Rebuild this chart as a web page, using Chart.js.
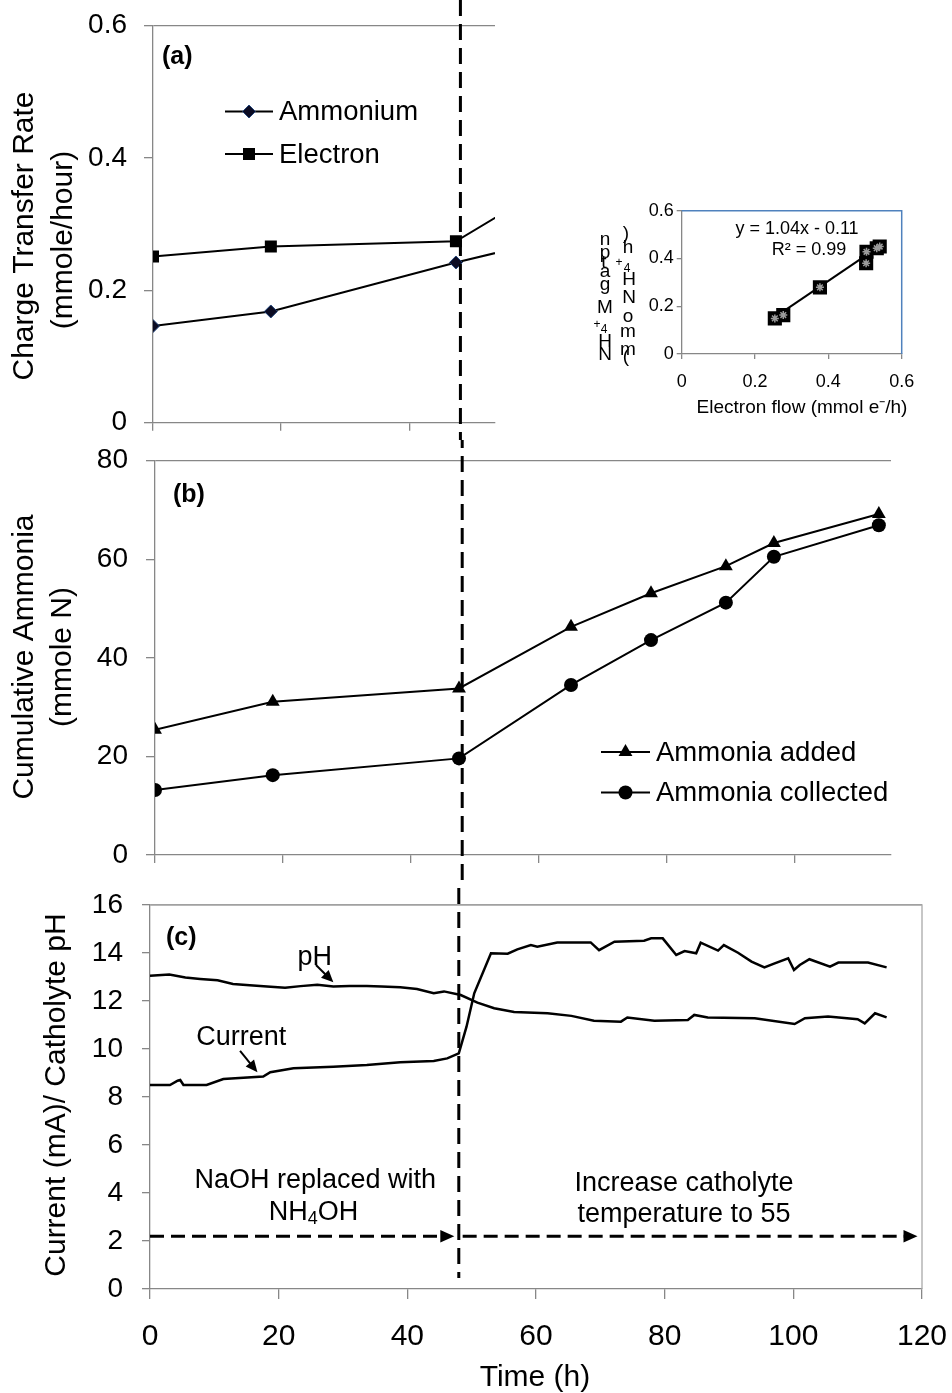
<!DOCTYPE html>
<html><head><meta charset="utf-8">
<script src="https://cdn.jsdelivr.net/npm/chart.js@4.4.1/dist/chart.umd.min.js"></script>
<style>
html,body{margin:0;padding:0;background:#fff;}
#wrap{position:relative;width:952px;height:1393px;overflow:hidden;background:#fff;}
canvas{position:absolute;}
</style></head><body>
<div id="wrap">
<canvas id="ca" width="952" height="440" style="left:0;top:0"></canvas>
<canvas id="cb" width="952" height="440" style="left:0;top:440px"></canvas>
<canvas id="cc" width="952" height="513" style="left:0;top:880px"></canvas>
<canvas id="ci" width="372" height="240" style="left:580px;top:195px"></canvas>
</div>
<script>
// ---------------- DATA ----------------
// Panel (a): charge transfer rate
const timeA = [0, 18.4, 47.3, 65];
const ammoniumRate = [0.146, 0.168, 0.242, 0.283];
const electronRate = [0.251, 0.266, 0.274, 0.377];
const yTicksA = [0, 0.2, 0.4, 0.6];
const xTicksA = [0, 20, 40];

// Inset: NH4+ migration vs electron flow
const electronFlow = [0.254, 0.277, 0.377, 0.503, 0.504, 0.532, 0.540];
const ammoniumFlow = [0.149, 0.163, 0.279, 0.380, 0.428, 0.443, 0.450];
const trendX = [0.25, 0.55];
const trendY = [0.15, 0.462];
const insetTicks = [0, 0.2, 0.4, 0.6];
const trendEquation = 'y = 1.04x - 0.11';
const trendR2 = 'R² = 0.99';

// Panel (b): cumulative ammonia
const timeB = [0, 18.4, 47.5, 65, 77.5, 89.2, 96.7, 113.1];
const ammoniaAdded = [25.4, 31.1, 33.8, 46.3, 53.1, 58.6, 63.3, 69.2];
const ammoniaCollected = [13.2, 16.2, 19.6, 34.5, 43.6, 51.2, 60.5, 66.9];
const yTicksB = [0, 20, 40, 60, 80];
const xTicksB = [0, 20, 40, 60, 80, 100];

// Panel (c): current and catholyte pH
const timePH = [0, 3, 5.5, 7.8, 10.5, 12.9, 15.5, 18.2, 21, 23.4, 26, 28.5, 31, 33.7, 36, 38.9, 41.5, 44.1, 45.7, 48.3, 50.9, 53.5, 56.6, 61.8, 65.5, 69, 73.2, 74.2, 78.4, 83.6, 84.6, 86.7, 94, 100.2, 101.8, 105.4, 110, 111.1, 112.7, 114.5];
const pH = [13.05, 13.1, 12.98, 12.92, 12.86, 12.71, 12.66, 12.6, 12.55, 12.62, 12.68, 12.6, 12.63, 12.62, 12.6, 12.57, 12.5, 12.32, 12.4, 12.25, 11.93, 11.7, 11.54, 11.49, 11.38, 11.18, 11.14, 11.31, 11.18, 11.21, 11.42, 11.31, 11.28, 11.04, 11.28, 11.35, 11.24, 11.07, 11.49, 11.32];
const timeCurrent = [0, 3.1, 4.3, 4.7, 5.2, 8.8, 11.4, 17.6, 18.7, 22.3, 28.5, 33.7, 38.9, 44.1, 46.2, 48, 49.2, 50.4, 53, 55.6, 57.1, 59.2, 60.2, 63.3, 68.5, 69.8, 72.2, 76.8, 77.9, 79.7, 81.8, 83.1, 84.9, 85.6, 88.3, 89.2, 91.4, 93.5, 95.5, 97.1, 99.2, 100.1, 101, 102.5, 105.7, 107, 111.6, 114.5];
const current = [8.5, 8.5, 8.68, 8.71, 8.5, 8.5, 8.75, 8.85, 9.03, 9.2, 9.26, 9.33, 9.45, 9.5, 9.61, 9.82, 10.93, 12.32, 13.99, 13.97, 14.15, 14.33, 14.26, 14.44, 14.44, 14.12, 14.47, 14.51, 14.61, 14.61, 13.92, 14.08, 13.99, 14.43, 14.1, 14.33, 14.01, 13.64, 13.4, 13.57, 13.78, 13.29, 13.5, 13.74, 13.43, 13.6, 13.6, 13.4];
const yTicksC = [0, 2, 4, 6, 8, 10, 12, 14, 16];
const xTicksC = [0, 20, 40, 60, 80, 100, 120];

const switchTime = 48;   // NaOH replaced with NH4OH

// ---------------- HELPERS ----------------
const FONT = "'Liberation Sans', Arial, Helvetica, sans-serif";
const AXIS = '#878787';
Chart.defaults.font.family = FONT;
Chart.defaults.color = '#000';

const pts = (xs, ys) => xs.map((x, i) => ({x: x, y: ys[i]}));
const setTicks = arr => (s => { s.ticks = arr.map(v => ({value: v})); });

function drawMarker(ctx, style, x, y, r, fill, stroke, bw) {
  ctx.save();
  ctx.fillStyle = fill; ctx.strokeStyle = stroke || fill; ctx.lineWidth = bw || 0;
  ctx.beginPath();
  if (style === 'rect') { const s = r * Math.SQRT1_2; ctx.rect(x - s, y - s, 2 * s, 2 * s); }
  else if (style === 'rectRot') { ctx.moveTo(x, y - r); ctx.lineTo(x + r, y); ctx.lineTo(x, y + r); ctx.lineTo(x - r, y); ctx.closePath(); }
  else if (style === 'triangle') {
    for (let k = 0; k < 3; k++) { const a = k * 2 * Math.PI / 3; const px = x + Math.sin(a) * r, py = y - Math.cos(a) * r; k ? ctx.lineTo(px, py) : ctx.moveTo(px, py); }
    ctx.closePath();
  } else { ctx.arc(x, y, r, 0, Math.PI * 2); }
  ctx.fill(); if (bw) ctx.stroke();
  ctx.restore();
}
function legendItem(ctx, ds, x1, x2, y, tx, label, size) {
  ctx.save();
  ctx.strokeStyle = ds.borderColor; ctx.lineWidth = ds.borderWidth;
  ctx.beginPath(); ctx.moveTo(x1, y); ctx.lineTo(x2, y); ctx.stroke();
  drawMarker(ctx, ds.pointStyle, (x1 + x2) / 2, y, ds.pointRadius, ds.pointBackgroundColor, ds.pointBorderColor, ds.pointBorderWidth);
  ctx.fillStyle = '#000'; ctx.font = size + 'px ' + FONT; ctx.textBaseline = 'middle'; ctx.textAlign = 'left';
  ctx.fillText(label, tx, y + 1);
  ctx.restore();
}
function text(ctx, str, x, y, size, opts) {
  opts = opts || {};
  ctx.save();
  ctx.font = (opts.bold ? 'bold ' : '') + size + 'px ' + FONT;
  ctx.fillStyle = '#000'; ctx.textAlign = opts.align || 'center'; ctx.textBaseline = opts.baseline || 'middle';
  if (opts.rotate) { ctx.translate(x, y); ctx.rotate(-Math.PI / 2); ctx.fillText(str, 0, 0); }
  else ctx.fillText(str, x, y);
  ctx.restore();
}
function switchLine(chart, y1, y2, offset) {
  const ctx = chart.ctx; const x = chart.scales.x.getPixelForValue(switchTime);
  ctx.save();
  ctx.strokeStyle = '#000'; ctx.lineWidth = 3; ctx.setLineDash([16, 8]); ctx.lineDashOffset = offset;
  ctx.beginPath(); ctx.moveTo(x, y1); ctx.lineTo(x, y2); ctx.stroke();
  ctx.restore();
}
function arrow(ctx, x1, y1, x2, y2, dash, head, lw) {
  const ang = Math.atan2(y2 - y1, x2 - x1);
  ctx.save();
  ctx.strokeStyle = '#000'; ctx.fillStyle = '#000'; ctx.lineWidth = lw;
  if (dash) ctx.setLineDash(dash);
  ctx.beginPath(); ctx.moveTo(x1, y1);
  ctx.lineTo(x2 - Math.cos(ang) * head * 0.8, y2 - Math.sin(ang) * head * 0.8); ctx.stroke();
  ctx.setLineDash([]);
  ctx.translate(x2, y2); ctx.rotate(ang);
  ctx.beginPath(); ctx.moveTo(0, 0); ctx.lineTo(-head, -head * 0.45); ctx.lineTo(-head, head * 0.45); ctx.closePath(); ctx.fill();
  ctx.restore();
}
function yScale(min, max, ticks, width, labelSize, pad, tl, topLine) {
  return {
    type: 'linear', min: min, max: max,
    afterBuildTicks: setTicks(ticks),
    afterFit: s => { s.width = width; s.paddingTop = 0; s.paddingBottom = 0; },
    ticks: {font: {size: labelSize, family: FONT}, color: '#000', padding: pad},
    grid: {tickLength: tl, tickColor: AXIS, lineWidth: 1.3,
      color: c => (topLine && c.tick && c.tick.value === max) ? AXIS : 'rgba(0,0,0,0)'},
    border: {color: AXIS, width: 1.3}
  };
}
function xScale(min, max, ticks, height, showLabels, labelSize, pad, tl) {
  return {
    type: 'linear', min: min, max: max,
    afterBuildTicks: setTicks(ticks),
    afterFit: s => { s.height = height; s.paddingLeft = 0; s.paddingRight = 0; },
    ticks: {display: showLabels, font: {size: labelSize || 12, family: FONT}, color: '#000', padding: pad || 0, maxRotation: 0},
    grid: {drawOnChartArea: false, tickLength: tl, tickColor: AXIS, lineWidth: 1.3},
    border: {color: AXIS, width: 1.3}
  };
}
const base = {animation: false, responsive: false, events: [],
  plugins: {legend: {display: false}, tooltip: {enabled: false}}};

// ---------------- PANEL (a) ----------------
new Chart(document.getElementById('ca'), {
  type: 'line',
  data: {datasets: [
    {label: 'Ammonium', data: pts(timeA, ammoniumRate), borderColor: '#000', borderWidth: 2, tension: 0,
     pointStyle: 'rectRot', pointRadius: 6.5, pointBackgroundColor: '#0b0b22', pointBorderColor: '#22447a', pointBorderWidth: 1},
    {label: 'Electron', data: pts(timeA, electronRate), borderColor: '#000', borderWidth: 2, tension: 0,
     pointStyle: 'rect', pointRadius: 8.5, pointBackgroundColor: '#000', pointBorderColor: '#000', pointBorderWidth: 0}
  ]},
  options: Object.assign({}, base, {
    layout: {padding: {left: 0, top: 25.5, right: 457, bottom: 0}},
    scales: {x: xScale(0, 53.4, xTicksA, 17.3, false, 12, 0, 8),
             y: yScale(0, 0.6, yTicksA, 153, 28, 17, 9, true)}
  }),
  plugins: [{id: 'pa', afterDraw(chart) {
    const ctx = chart.ctx, ds = chart.data.datasets;
    switchLine(chart, 0, 440, 0);
    text(ctx, '(a)', 162, 57, 25, {bold: true, align: 'left'});
    legendItem(ctx, ds[0], 225, 273, 111.5, 279, 'Ammonium', 27.5);
    legendItem(ctx, ds[1], 225, 273, 154, 279, 'Electron', 27.5);
    text(ctx, 'Charge Transfer Rate', 25, 236, 30, {rotate: true});
    text(ctx, '(mmole/hour)', 64, 240, 30, {rotate: true});
  }}]
});

// ---------------- INSET ----------------
new Chart(document.getElementById('ci'), {
  type: 'scatter',
  data: {datasets: [
    {type: 'line', data: pts(trendX, trendY), borderColor: '#000', borderWidth: 2, pointRadius: 0, tension: 0, order: 1},
    {data: pts(electronFlow, ammoniumFlow), pointStyle: 'star', pointRadius: 4, borderColor: '#9a9a9a', borderWidth: 1.5, backgroundColor: '#9a9a9a', order: 0},
    {data: pts(electronFlow, ammoniumFlow), pointStyle: 'rect', pointRadius: 10, backgroundColor: '#000', borderColor: '#000', borderWidth: 0, order: 2}
  ]},
  options: Object.assign({}, base, {
    layout: {padding: {left: 0, top: 15.7, right: 50.3, bottom: 0}},
    scales: {
      x: xScale(0, 0.6, insetTicks, 81, true, 18, 12, 5),
      y: yScale(0, 0.6, insetTicks, 101.7, 18, 3, 5, false)
    }
  }),
  plugins: [{id: 'pi', afterDraw(chart) {
    const ctx = chart.ctx, a = chart.chartArea;
    ctx.save(); ctx.strokeStyle = '#4F81BD'; ctx.lineWidth = 1.5;
    ctx.beginPath(); ctx.moveTo(a.left, a.top); ctx.lineTo(a.right, a.top); ctx.lineTo(a.right, a.bottom); ctx.stroke(); ctx.restore();
    text(ctx, trendEquation, 217, 34, 18);
    text(ctx, trendR2, 229, 55, 18);
    text(ctx, 'Electron flow (mmol e\u207B/h)', 222, 213, 19);
    // stacked (broken) vertical axis title as in the original
    const col1 = [['n', 25, 50], ['p', 25, 63], ['t', 24, 73], ['a', 25, 82], ['g', 25, 95], ['M', 25, 118], ['H', 25, 152], ['N', 25, 165]];
    const col2 = [[')', 46, 44], ['h', 48, 58], ['H', 49, 90], ['N', 49, 108], ['o', 48, 127], ['m', 48, 142], ['m', 48, 160], ['(', 46, 167]];
    col1.concat(col2).forEach(c => text(ctx, c[0], c[1], c[2], 19, {baseline: 'alphabetic'}));
    [['+', 17, 133], ['4', 24, 138], ['+', 39, 71], ['4', 47, 77]].forEach(c => text(ctx, c[0], c[1], c[2], 12, {baseline: 'alphabetic'}));
  }}]
});

// ---------------- PANEL (b) ----------------
new Chart(document.getElementById('cb'), {
  type: 'line',
  data: {datasets: [
    {label: 'Ammonia added', data: pts(timeB, ammoniaAdded), borderColor: '#000', borderWidth: 2, tension: 0,
     pointStyle: 'triangle', pointRadius: 8, pointBackgroundColor: '#000', pointBorderColor: '#000', pointBorderWidth: 0},
    {label: 'Ammonia collected', data: pts(timeB, ammoniaCollected), borderColor: '#000', borderWidth: 2, tension: 0,
     pointStyle: 'circle', pointRadius: 7, pointBackgroundColor: '#000', pointBorderColor: '#000', pointBorderWidth: 0}
  ]},
  options: Object.assign({}, base, {
    layout: {padding: {left: 0, top: 20.7, right: 61, bottom: 0}},
    scales: {x: xScale(0, 115, xTicksB, 25, false, 12, 0, 8),
             y: yScale(0, 80, yTicksB, 155, 28, 18, 9, true)}
  }),
  plugins: [{id: 'pb', afterDraw(chart) {
    const ctx = chart.ctx, ds = chart.data.datasets;
    switchLine(chart, 0, 440, 440);
    text(ctx, '(b)', 173, 55, 25, {bold: true, align: 'left'});
    legendItem(ctx, ds[0], 601, 650, 312, 656, 'Ammonia added', 27.5);
    legendItem(ctx, ds[1], 601, 650, 352.5, 656, 'Ammonia collected', 27.5);
    text(ctx, 'Cumulative Ammonia', 25, 217, 30, {rotate: true});
    text(ctx, '(mmole N)', 63, 217, 30, {rotate: true});
  }}]
});

// ---------------- PANEL (c) ----------------
new Chart(document.getElementById('cc'), {
  type: 'line',
  data: {datasets: [
    {label: 'pH', data: pts(timePH, pH), borderColor: '#000', borderWidth: 2.5, pointRadius: 0, tension: 0},
    {label: 'Current', data: pts(timeCurrent, current), borderColor: '#000', borderWidth: 2.5, pointRadius: 0, tension: 0}
  ]},
  options: Object.assign({}, base, {
    layout: {padding: {left: 0, top: 25, right: 30, bottom: 0}},
    scales: {x: xScale(0, 120, xTicksC, 104, true, 30, 20, 10),
             y: yScale(0, 16, yTicksC, 150, 28, 19, 8, true)}
  }),
  plugins: [{id: 'pc', afterDraw(chart) {
    const ctx = chart.ctx, a = chart.chartArea, xs = chart.scales.x, ys = chart.scales.y;
    const X = v => xs.getPixelForValue(v), Y = v => ys.getPixelForValue(v);
    ctx.save(); ctx.strokeStyle = '#aaaaaa'; ctx.lineWidth = 1.3;
    ctx.beginPath(); ctx.moveTo(a.left, a.top); ctx.lineTo(a.right, a.top); ctx.lineTo(a.right, a.bottom); ctx.stroke(); ctx.restore();
    switchLine(chart, 0, 398, 880);
    text(ctx, '(c)', 166, 58, 25, {bold: true, align: 'left'});
    // series labels with arrows
    text(ctx, 'pH', X(25.6), Y(13.83), 27);
    arrow(ctx, X(25.8), Y(13.5), X(28.5), Y(12.78), null, 12, 2);
    text(ctx, 'Current', X(14.2), Y(10.46), 27);
    arrow(ctx, X(14.0), Y(9.92), X(16.7), Y(9.03), null, 12, 2);
    // phase annotations
    text(ctx, 'NaOH replaced with', X(25.7), Y(4.5), 27);
    ctx.save(); ctx.font = '27px ' + FONT;
    const w1 = ctx.measureText('NH').width, w3 = ctx.measureText('OH').width;
    ctx.font = '18px ' + FONT; const w2 = ctx.measureText('4').width; ctx.restore();
    const cx = X(25.4), cy = Y(3.2), sx = cx - (w1 + w2 + w3) / 2;
    text(ctx, 'NH', sx, cy, 27, {align: 'left'});
    text(ctx, '4', sx + w1, cy + 7, 18, {align: 'left'});
    text(ctx, 'OH', sx + w1 + w2, cy, 27, {align: 'left'});
    text(ctx, 'Increase catholyte', X(83), Y(4.4), 27);
    text(ctx, 'temperature to 55', X(83), Y(3.1), 27);
    arrow(ctx, X(0), Y(2.2), X(47.3), Y(2.2), [14, 7], 14, 3);
    arrow(ctx, X(48.6), Y(2.2), X(119.3), Y(2.2), [14, 7], 14, 3);
    text(ctx, 'Current (mA)/ Catholyte pH', 57, 215, 30, {rotate: true});
    text(ctx, 'Time (h)', 535, 498, 30);
  }}]
});
</script>
</body></html>
